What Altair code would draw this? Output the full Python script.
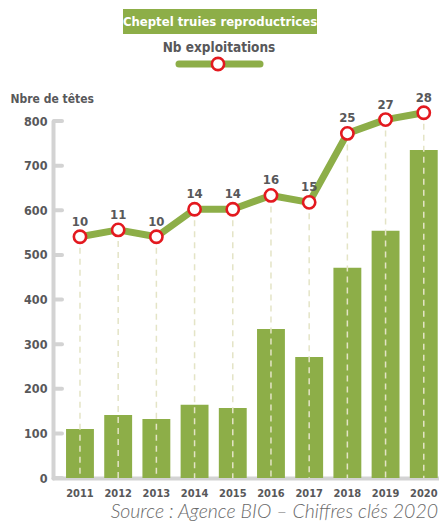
import altair as alt
import pandas as pd

years = ["2011", "2012", "2013", "2014", "2015", "2016", "2017", "2018", "2019", "2020"]
cheptel = [110, 141, 132, 164, 157, 334, 271, 471, 554, 735]
nb_exploitations = [10, 11, 10, 14, 14, 16, 15, 25, 27, 28]
y_ticks = [0, 100, 200, 300, 400, 500, 600, 700, 800]

GREEN = "#8dae48"
RED = "#e3191f"
GREY_TXT = "#58585a"
GREY_AX = "#d3d3d3"
FONT = "DejaVu Sans Condensed, sans-serif"

df = pd.DataFrame({"year": years, "cheptel": cheptel, "nb": nb_exploitations})
ticks_df = pd.DataFrame({"v": y_ticks})
one = pd.DataFrame({"k": [0]})

W, H = 386, 357

xscale = alt.Scale(paddingInner=0.27, paddingOuter=0.1875, align=0.91)
line_scale = alt.Scale(domain=[-25, 26.8])
left_scale = alt.Scale(domain=[0, 800])

xenc = alt.X("year:N", scale=xscale, sort=years,
             axis=alt.Axis(title=None, labelAngle=0, ticks=False, labelPadding=9,
                           domainWidth=4, domainColor=GREY_AX, domainCap="round",
                           labelFont=FONT, labelFontSize=11, labelFontWeight="bold",
                           labelColor=GREY_TXT))

bars = alt.Chart(df).mark_bar(color=GREEN).encode(
    x=xenc,
    y=alt.Y("cheptel:Q", scale=left_scale,
            axis=alt.Axis(values=y_ticks, grid=False, tickSize=0, labelPadding=6,
                          domainWidth=4, domainColor=GREY_AX, domainCap="round",
                          labelFont=FONT, labelFontSize=12.5, labelFontWeight="bold",
                          labelColor=GREY_TXT,
                          title="Nbre de têtes", titleAngle=0, titleAlign="left",
                          titleBaseline="middle", titleX=-43, titleY=-23,
                          titleFont=FONT, titleFontSize=12, titleFontWeight="bold",
                          titleColor=GREY_TXT)),
)

tick_stubs = alt.Chart(ticks_df).mark_rule(color=GREY_AX, strokeWidth=4, strokeCap="round").encode(
    y=alt.Y("v:Q", scale=left_scale, axis=None),
    x=alt.value(1), x2=alt.value(9),
)

drops = alt.Chart(df).mark_rule(color="#e4e4c6", strokeWidth=1.5, strokeDash=[6, 5]).encode(
    x=alt.X("year:N", sort=years),
    y=alt.Y("nb:Q", scale=line_scale, axis=None),
    y2=alt.value(H),
)

line = alt.Chart(df).mark_line(color=GREEN, strokeWidth=7, strokeJoin="round", strokeCap="round").encode(
    x=alt.X("year:N", sort=years),
    y=alt.Y("nb:Q", scale=line_scale, axis=None),
)

points = alt.Chart(df).mark_point(shape="circle", filled=True, fill="white", stroke=RED,
                                  strokeWidth=2.6, size=150, opacity=1).encode(
    x=alt.X("year:N", sort=years),
    y=alt.Y("nb:Q", scale=line_scale, axis=None),
)

labels = alt.Chart(df).mark_text(dy=-15, font=FONT, fontSize=13, fontWeight="bold",
                                 color=GREY_TXT, baseline="middle").encode(
    x=alt.X("year:N", sort=years),
    y=alt.Y("nb:Q", scale=line_scale, axis=None),
    text="nb:Q",
)

leg_box = alt.Chart(one).mark_rect(color=GREEN).encode(
    x=alt.value(70), x2=alt.value(264), y=alt.value(-112), y2=alt.value(-87))
leg_box_txt = alt.Chart(one).mark_text(text="Cheptel truies reproductrices", font=FONT, fontSize=13,
                                       fontWeight="bold", color="white", baseline="middle").encode(
    x=alt.value(167), y=alt.value(-99))
leg_line_txt = alt.Chart(one).mark_text(text="Nb exploitations", font=FONT, fontSize=13.5,
                                        fontWeight="bold", color=GREY_TXT, baseline="middle").encode(
    x=alt.value(166), y=alt.value(-73))
leg_line = alt.Chart(one).mark_rule(color=GREEN, strokeWidth=7, strokeCap="round").encode(
    x=alt.value(126), x2=alt.value(207), y=alt.value(-57))
leg_pt = alt.Chart(one).mark_point(shape="circle", filled=True, fill="white", stroke=RED,
                                   strokeWidth=2.6, size=150, opacity=1).encode(
    x=alt.value(165), y=alt.value(-57))
source = alt.Chart(one).mark_text(text="Source : Agence BIO – Chiffres clés 2020", font="Lato",
                                  fontSize=19.5, fontStyle="italic", fontWeight=300, color="#6a6a6a",
                                  align="right", baseline="alphabetic").encode(
    x=alt.value(385), y=alt.value(397))

chart = alt.layer(
    bars, tick_stubs, drops, line, points, labels,
    leg_box, leg_box_txt, leg_line_txt, leg_line, leg_pt, source
).resolve_scale(y="independent").properties(
    width=W, height=H,
    autosize=alt.AutoSizeParams(type="none"),
    padding={"left": 45, "top": 113, "right": 0, "bottom": 43},
).configure_view(stroke=None)

chart.save("out.html", embed_options={"renderer": "svg", "actions": False})
